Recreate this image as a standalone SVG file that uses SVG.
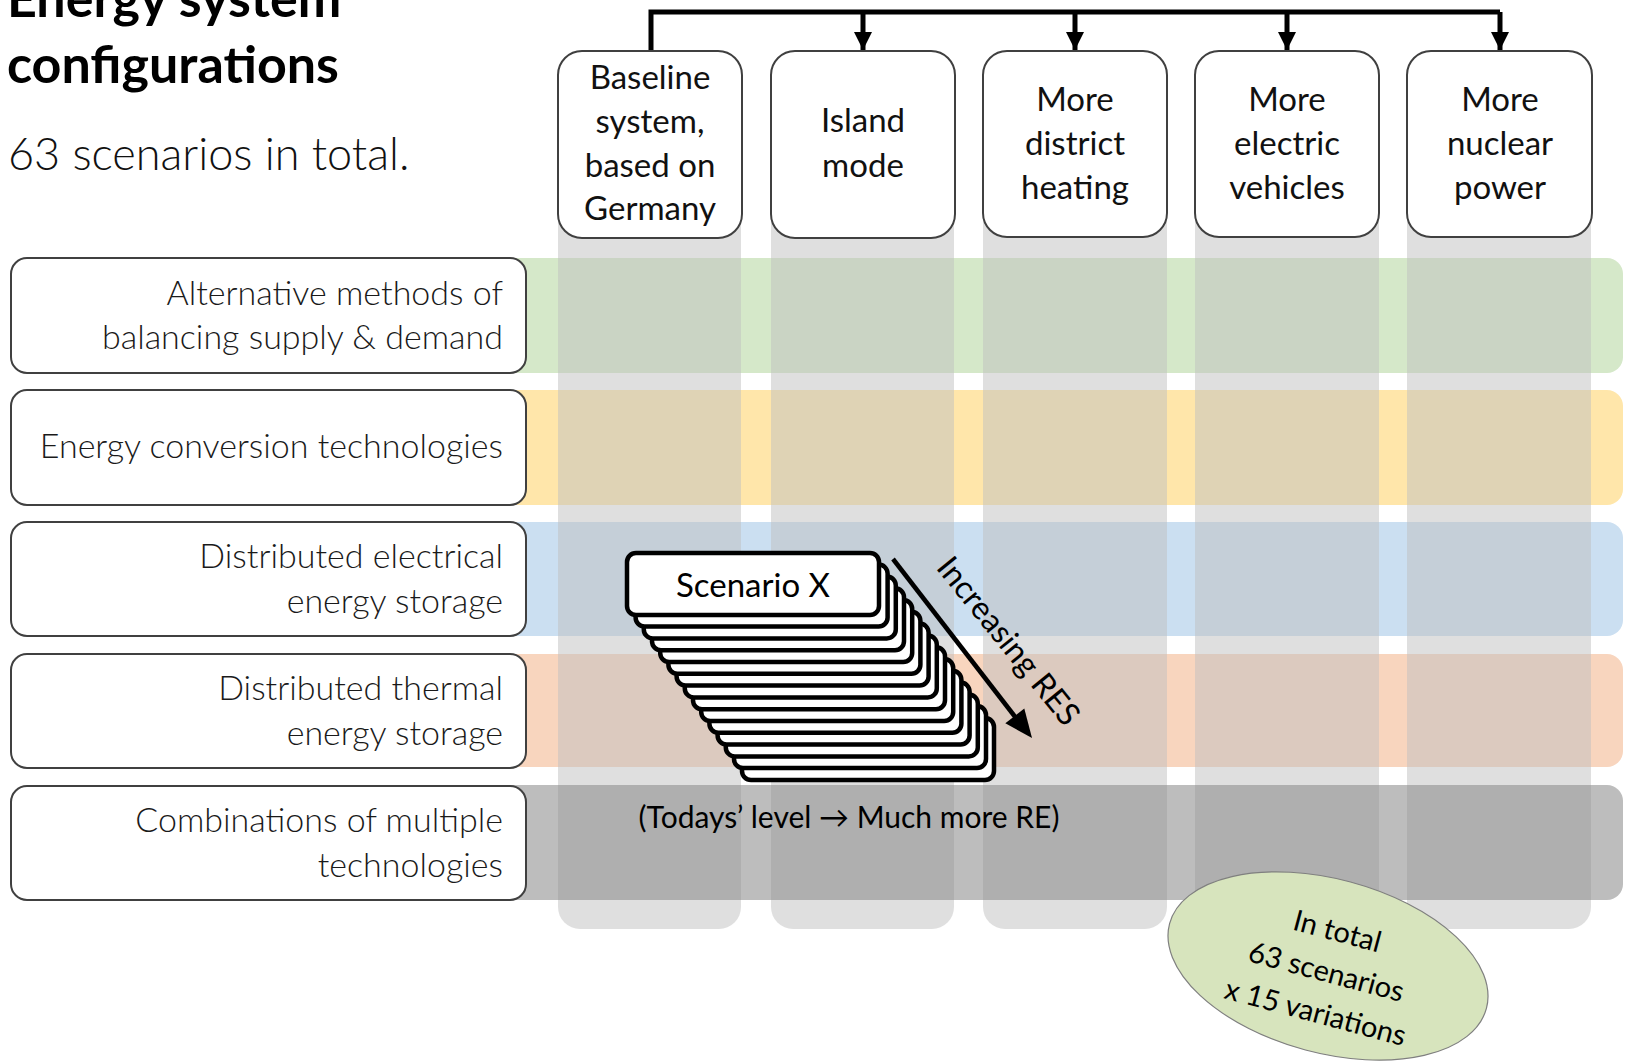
<svg xmlns="http://www.w3.org/2000/svg" width="1625" height="1062" viewBox="0 0 1625 1062">
<defs>
<style>
.lbl{font-family:Lato,"Liberation Sans",sans-serif;font-weight:300;font-size:34px;fill:#1a1a1a;text-anchor:end}
.nd{font-family:Lato,"Liberation Sans",sans-serif;font-size:33px;fill:#111;text-anchor:middle}
.nbox{fill:#fff;stroke:#404040;stroke-width:2}
.lbox{fill:#fff;stroke:#404040;stroke-width:2}
.col{fill:#bfbfbf;fill-opacity:0.5}
.conn{fill:none;stroke:#000;stroke-width:5}
.stk{fill:#fff;stroke:#000;stroke-width:4.5}
</style>
<marker id="ah" viewBox="0 0 10 10" refX="10" refY="5" markerWidth="18" markerHeight="18" markerUnits="userSpaceOnUse" orient="auto">
<path d="M0,0 L10,5 L0,10 z" fill="#000"/>
</marker>
</defs>
<rect width="1625" height="1062" fill="#fff"/>

<g id="title">
<text x="7" y="17" font-family="Lato,'Liberation Sans',sans-serif" font-weight="700" font-size="52" fill="#000">Energy system</text>
<text x="7" y="83" font-family="Lato,'Liberation Sans',sans-serif" font-weight="700" font-size="52" fill="#000">configurations</text>
<text x="8" y="170" font-family="Lato,'Liberation Sans',sans-serif" font-weight="300" font-size="45" fill="#111">63 scenarios in total.</text>
</g>

<g id="rows">
<rect x="490" y="258" width="1133" height="115" rx="16" fill="#d5e8c9"/>
<rect x="490" y="390" width="1133" height="115" rx="16" fill="#ffe6aa"/>
<rect x="490" y="522" width="1133" height="114" rx="16" fill="#cbdff1"/>
<rect x="490" y="654" width="1133" height="113" rx="16" fill="#f8d5be"/>
</g>

<g id="columns">
<rect class="col" x="558" y="60" width="183" height="869" rx="22"/>
<rect class="col" x="771" y="60" width="183" height="869" rx="22"/>
<rect class="col" x="983" y="60" width="184" height="869" rx="22"/>
<rect class="col" x="1195" y="60" width="184" height="869" rx="22"/>
<rect class="col" x="1407" y="60" width="184" height="869" rx="22"/>
</g>

<g id="row-combinations">
<rect x="490" y="785" width="1133" height="115" rx="16" fill="#898989" fill-opacity="0.56"/>
</g>

<g id="connectors">
<path class="conn" d="M651,51 V12 H1500"/>
<path class="conn" d="M863,12 V50" marker-end="url(#ah)"/>
<path class="conn" d="M1075,12 V50" marker-end="url(#ah)"/>
<path class="conn" d="M1287,12 V50" marker-end="url(#ah)"/>
<path class="conn" d="M1500,12 V50" marker-end="url(#ah)"/>
</g>

<g id="node-baseline">
<rect class="nbox" x="558" y="51" width="184" height="187" rx="24"/>
<text class="nd" x="650" y="89">Baseline</text>
<text class="nd" x="650" y="133">system,</text>
<text class="nd" x="650" y="177">based on</text>
<text class="nd" x="650" y="220">Germany</text>
</g>
<g id="node-island">
<rect class="nbox" x="771" y="51" width="184" height="187" rx="24"/>
<text class="nd" x="863" y="132">Island</text>
<text class="nd" x="863" y="177">mode</text>
</g>
<g id="node-district">
<rect class="nbox" x="983" y="51" width="184" height="186" rx="24"/>
<text class="nd" x="1075" y="111">More</text>
<text class="nd" x="1075" y="155">district</text>
<text class="nd" x="1075" y="199">heating</text>
</g>
<g id="node-vehicles">
<rect class="nbox" x="1195" y="51" width="184" height="186" rx="24"/>
<text class="nd" x="1287" y="111">More</text>
<text class="nd" x="1287" y="155">electric</text>
<text class="nd" x="1287" y="199">vehicles</text>
</g>
<g id="node-nuclear">
<rect class="nbox" x="1407" y="51" width="185" height="186" rx="24"/>
<text class="nd" x="1500" y="111">More</text>
<text class="nd" x="1500" y="155">nuclear</text>
<text class="nd" x="1500" y="199">power</text>
</g>

<g id="label-balancing">
<rect class="lbox" x="11" y="258" width="515" height="115" rx="16"/>
<text class="lbl" x="503" y="305">Alternative methods of</text>
<text class="lbl" x="503" y="349">balancing supply &amp; demand</text>
</g>
<g id="label-conversion">
<rect class="lbox" x="11" y="390" width="515" height="115" rx="16"/>
<text class="lbl" x="503" y="458">Energy conversion technologies</text>
</g>
<g id="label-electrical">
<rect class="lbox" x="11" y="522" width="515" height="114" rx="16"/>
<text class="lbl" x="503" y="568">Distributed electrical</text>
<text class="lbl" x="503" y="613">energy storage</text>
</g>
<g id="label-thermal">
<rect class="lbox" x="11" y="654" width="515" height="114" rx="16"/>
<text class="lbl" x="503" y="700">Distributed thermal</text>
<text class="lbl" x="503" y="745">energy storage</text>
</g>
<g id="label-combinations">
<rect class="lbox" x="11" y="786" width="515" height="114" rx="16"/>
<text class="lbl" x="503" y="832">Combinations of multiple</text>
<text class="lbl" x="503" y="877">technologies</text>
</g>

<g id="scenario-stack">
<rect class="stk" x="742" y="718" width="252" height="62" rx="9"/>
<rect class="stk" x="734" y="706" width="252" height="62" rx="9"/>
<rect class="stk" x="725.8" y="694.4" width="252" height="62" rx="9"/>
<rect class="stk" x="717.6" y="682.6" width="252" height="62" rx="9"/>
<rect class="stk" x="709.4" y="670.8" width="252" height="62" rx="9"/>
<rect class="stk" x="701.2" y="659" width="252" height="62" rx="9"/>
<rect class="stk" x="693" y="647.2" width="252" height="62" rx="9"/>
<rect class="stk" x="684.8" y="635.4" width="252" height="62" rx="9"/>
<rect class="stk" x="676.6" y="623.6" width="252" height="62" rx="9"/>
<rect class="stk" x="668.4" y="611.8" width="252" height="62" rx="9"/>
<rect class="stk" x="660.2" y="600" width="252" height="62" rx="9"/>
<rect class="stk" x="652" y="588.2" width="252" height="62" rx="9"/>
<rect class="stk" x="643.8" y="576.4" width="252" height="62" rx="9"/>
<rect class="stk" x="635.6" y="564.6" width="252" height="62" rx="9"/>
<rect class="stk" x="627" y="553" width="252" height="62" rx="9"/>
<text x="753" y="597" font-family="Lato,'Liberation Sans',sans-serif" font-size="33" fill="#000" text-anchor="middle">Scenario X</text>
</g>

<g id="increasing-res">
<line x1="893" y1="559" x2="1016" y2="718" stroke="#000" stroke-width="4.5"/>
<polygon points="1032,738 1005.3,723.3 1024.3,708.5" fill="#000"/>
<text x="1000" y="648" transform="rotate(51 1000 648)" font-family="Lato,'Liberation Sans',sans-serif" font-size="32" fill="#000" text-anchor="middle">Increasing RES</text>
</g>

<g id="res-range">
<text x="849" y="828" font-family="Lato,'Liberation Sans',sans-serif" font-size="30" fill="#000" text-anchor="middle">(Todays’ level → Much more RE)</text>
</g>

<g id="total-ellipse" transform="rotate(15 1328 966)">
<ellipse cx="1328" cy="966" rx="164" ry="87" fill="#d7e4bd" stroke="#7f7f7f" stroke-width="1.2"/>
<text x="1328" y="940" font-family="Lato,'Liberation Sans',sans-serif" font-size="29" fill="#000" text-anchor="middle">In total</text>
<text x="1328" y="982" font-family="Lato,'Liberation Sans',sans-serif" font-size="29" fill="#000" text-anchor="middle">63 scenarios</text>
<text x="1328" y="1024" font-family="Lato,'Liberation Sans',sans-serif" font-size="29" fill="#000" text-anchor="middle">x 15 variations</text>
</g>
</svg>
